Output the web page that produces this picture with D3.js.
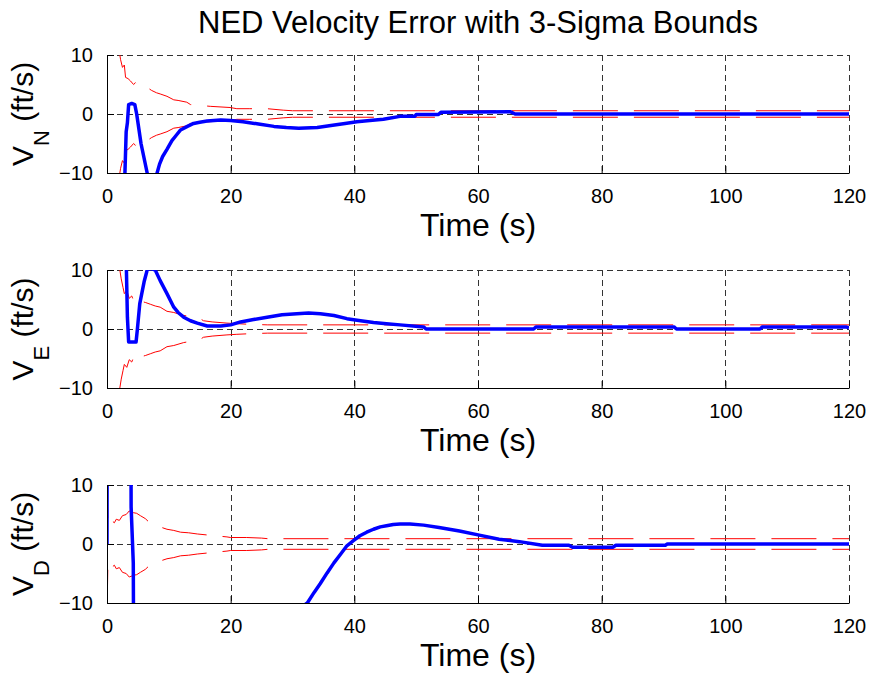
<!DOCTYPE html>
<html>
<head>
<meta charset="utf-8">
<script src="https://cdn.jsdelivr.net/npm/d3@7"></script>
<style>
  body { margin: 0; background: #fff; }
  svg { font-family: "Liberation Sans", Arial, sans-serif; }
</style>
</head>
<body>
<svg id="chart" width="872" height="674"></svg>
<script>
// axis ticks shared by the three panels
const timeTicks = [0, 20, 40, 60, 80, 100, 120];
const velTicks = [-10, 0, 10];

// North channel: 3-sigma bound and velocity error
const sigN_t = [2.0, 2.2, 2.5, 2.8, 3.0, 3.4, 3.8, 4.3, 4.6, 5.0, 5.4, 5.9, 6.5, 7.2, 8.0, 8.6, 9.7, 10.8, 11.5, 12.9, 13.5, 15.6, 16.7, 19.9, 21.0, 23.1, 25.9, 28.5, 30.0, 120];
const sigN_v = [10.5, 9.2, 7.9, 8.3, 6.2, 6.0, 5.6, 5.0, 5.3, 4.8, 4.6, 4.4, 4.5, 4.0, 3.6, 3.4, 3.0, 2.4, 2.3, 2.0, 1.6, 1.4, 1.3, 1.1, 0.9, 0.9, 0.9, 0.65, 0.55, 0.55];
const velN_t = [2.9, 3.1, 3.3, 3.5, 4.0, 4.5, 4.8, 5.5, 6.5, 7.3, 8.1, 8.5, 9.0, 9.7, 10.5, 11.2, 11.9, 13.0, 14.0, 15.0, 16.2, 17.3, 18.4, 20.0, 22.0, 24.5, 27.0, 29.0, 31.0, 34.0, 36.5, 38.5, 40.4, 42.5, 44.7, 47.4, 48.0, 49.8, 50.0, 53.6, 54.0, 65.2, 66.0, 120];
const velN_v = [-10, -3, -1.5, 1.6, 1.8, 1.6, 0, -5, -10, -14, -10, -8.5, -7.2, -6, -4.5, -3.6, -2.7, -2.1, -1.6, -1.4, -1.2, -1.1, -1.0, -1.1, -1.3, -1.7, -2.1, -2.3, -2.4, -2.3, -1.9, -1.6, -1.3, -1.1, -0.9, -0.4, -0.4, -0.4, -0.1, -0.1, 0.3, 0.4, 0.0, 0.0];

// East channel
const sigE_t = [2.0, 2.3, 2.6, 2.8, 3.2, 3.6, 4.0, 4.3, 4.8, 5.5, 6.2, 7.0, 7.8, 8.6, 9.7, 10.8, 12.4, 13.5, 15.0, 15.6, 17.0, 19.4, 21.0, 23.0, 26.0, 120];
const sigE_v = [10.5, 8.5, 7.0, 6.0, 6.5, 5.2, 5.6, 4.8, 5.4, 4.7, 4.5, 4.2, 3.9, 3.7, 3.0, 2.8, 2.3, 2.1, 1.8, 1.4, 1.2, 1.0, 0.9, 0.8, 0.7, 0.7];
const velE_t = [3.1, 3.3, 3.5, 4.7, 4.9, 5.3, 6.0, 6.5, 7.0, 7.8, 8.6, 9.7, 10.8, 11.5, 12.4, 13.5, 14.6, 16.2, 18.4, 20.0, 21.6, 23.7, 25.9, 28.3, 30.7, 32.6, 34.5, 36.7, 38.8, 41.0, 43.1, 45.2, 47.4, 51.2, 51.6, 69.0, 69.4, 91.7, 92.1, 105.6, 106.0, 119.5, 120];
const velE_v = [12, 2, -2.2, -2.2, -0.2, 4.3, 8, 10, 10.3, 10, 8.2, 6, 3.7, 2.8, 2.0, 1.4, 1.0, 0.5, 0.5, 0.7, 1.2, 1.6, 2.0, 2.4, 2.6, 2.7, 2.6, 2.3, 1.75, 1.4, 1.1, 0.9, 0.7, 0.35, 0.0, 0.0, 0.35, 0.35, 0.0, 0.0, 0.35, 0.35, 0.2];

// Down channel
const sigD_t = [0, 0.15, 0.4, 0.8, 1.2, 1.5, 2.0, 2.5, 3.1, 3.6, 4.3, 4.8, 5.4, 6.2, 7.0, 8.0, 9.7, 10.8, 11.9, 13.2, 14.6, 16.5, 19.4, 20.0, 22.6, 25.0, 26.0, 120];
const sigD_v = [12, 3.0, 3.4, 3.9, 3.6, 4.2, 4.0, 4.8, 5.0, 5.6, 5.3, 5.2, 4.8, 4.3, 3.5, 3.1, 2.5, 2.3, 2.0, 1.9, 1.7, 1.5, 1.2, 1.1, 1.1, 1.0, 0.9, 0.9];
const velD_t = [0, 0.05, 3.85, 3.9, 4.25, 4.35, 32.4, 33.5, 34.5, 35.6, 36.7, 37.8, 38.8, 39.9, 40.9, 42.0, 43.1, 44.2, 45.2, 46.3, 47.4, 49.0, 51.2, 53.7, 57.0, 60.2, 63.4, 66.7, 70.4, 74.7, 75.3, 81.8, 82.3, 90.3, 90.6, 120];
const velD_v = [0, 30, 30, 6.3, -3.2, -30, -10, -8.2, -6.7, -4.9, -3.2, -1.7, -0.3, 0.6, 1.4, 2.0, 2.5, 2.9, 3.1, 3.3, 3.4, 3.4, 3.2, 2.8, 2.2, 1.5, 0.8, 0.4, -0.2, -0.2, -0.55, -0.55, -0.2, -0.2, 0, 0];

const panels = [
    {sub: "N", top: 55, sigT: sigN_t, sigV: sigN_v, velT: velN_t, velV: velN_v},
    {sub: "E", top: 270, sigT: sigE_t, sigV: sigE_v, velT: velE_t, velV: velE_v},
    {sub: "D", top: 485, sigT: sigD_t, sigV: sigD_v, velT: velD_t, velV: velD_v}
];

const left = 107, right = 849, panelHeight = 118;

const svg = d3.select("#chart");

svg.append("text")
    .attr("x", 478)
    .attr("y", 33)
    .attr("text-anchor", "middle")
    .attr("font-size", 31)
    .text("NED Velocity Error with 3-Sigma Bounds");

panels.forEach(function(p, i) {
    const x = d3.scaleLinear().domain([0, 120]).range([left, right]);
    const y = d3.scaleLinear().domain([-10, 10]).range([p.top + panelHeight, p.top]);
    const g = svg.append("g");

    // clip so lines stay inside the axes
    g.append("clipPath").attr("id", "clip" + i)
        .append("rect")
        .attr("x", left).attr("y", p.top)
        .attr("width", right - left).attr("height", panelHeight);

    // dashed grid
    g.selectAll(".vgrid")
        .data(timeTicks)
        .enter().append("line")
        .attr("x1", function(d) { return Math.round(x(d)) + 0.5; })
        .attr("x2", function(d) { return Math.round(x(d)) + 0.5; })
        .attr("y1", p.top)
        .attr("y2", p.top + panelHeight)
        .attr("stroke", "#333")
        .attr("stroke-dasharray", "6,4");
    g.selectAll(".hgrid")
        .data(velTicks)
        .enter().append("line")
        .attr("x1", left)
        .attr("x2", right)
        .attr("y1", function(d) { return Math.round(y(d)) + 0.5; })
        .attr("y2", function(d) { return Math.round(y(d)) + 0.5; })
        .attr("stroke", "#333")
        .attr("stroke-dasharray", "6,4");

    const plot = g.append("g").attr("clip-path", "url(#clip" + i + ")");

    // 3-sigma bounds
    const sig = p.sigT.map(function(t, k) { return [t, p.sigV[k]]; });
    const line = d3.line().x(function(d) { return x(d[0]); }).y(function(d) { return y(d[1]); });
    [1, -1].forEach(function(s) {
        plot.append("path")
            .attr("d", line(sig.map(function(d) { return [d[0], s * d[1]]; })))
            .attr("fill", "none")
            .attr("stroke", "#ff0000")
            .attr("stroke-width", 1)
            .attr("stroke-dasharray", "45,16");
    });

    // velocity error
    const vel = p.velT.map(function(t, k) { return [t, p.velV[k]]; });
    plot.append("path")
        .attr("d", line(vel))
        .attr("fill", "none")
        .attr("stroke", "#0000ff")
        .attr("stroke-width", 3.5)
        .attr("stroke-linejoin", "round");

    // axes: solid left and bottom, ticks pointing inward
    const xAxis = g.append("g")
        .attr("transform", "translate(0," + (p.top + panelHeight) + ")")
        .call(d3.axisBottom(x).tickValues(timeTicks).tickSize(-7).tickPadding(16).tickSizeOuter(0));
    const yAxis = g.append("g")
        .attr("transform", "translate(" + left + ",0)")
        .call(d3.axisLeft(y).tickValues(velTicks).tickSize(-7).tickPadding(14).tickSizeOuter(0));
    [xAxis, yAxis].forEach(function(a) {
        a.selectAll("text").attr("font-size", 20).attr("font-family", "Liberation Sans, Arial, sans-serif").attr("fill", "#000");
        a.selectAll("line, path").attr("stroke", "#000");
    });

    // axis titles
    g.append("text")
        .attr("x", (left + right) / 2)
        .attr("y", p.top + panelHeight + 63)
        .attr("text-anchor", "middle")
        .attr("font-size", 32)
        .text("Time (s)");

    const yl = g.append("text")
        .attr("transform", "translate(33," + (p.top + panelHeight / 2) + ") rotate(-90)")
        .attr("text-anchor", "middle")
        .attr("font-size", 30);
    yl.append("tspan").text("V");
    yl.append("tspan").attr("font-size", 22).attr("dy", 16).text(p.sub);
    yl.append("tspan").attr("dy", -16).text(" (ft/s)");
});
</script>
</body>
</html>
